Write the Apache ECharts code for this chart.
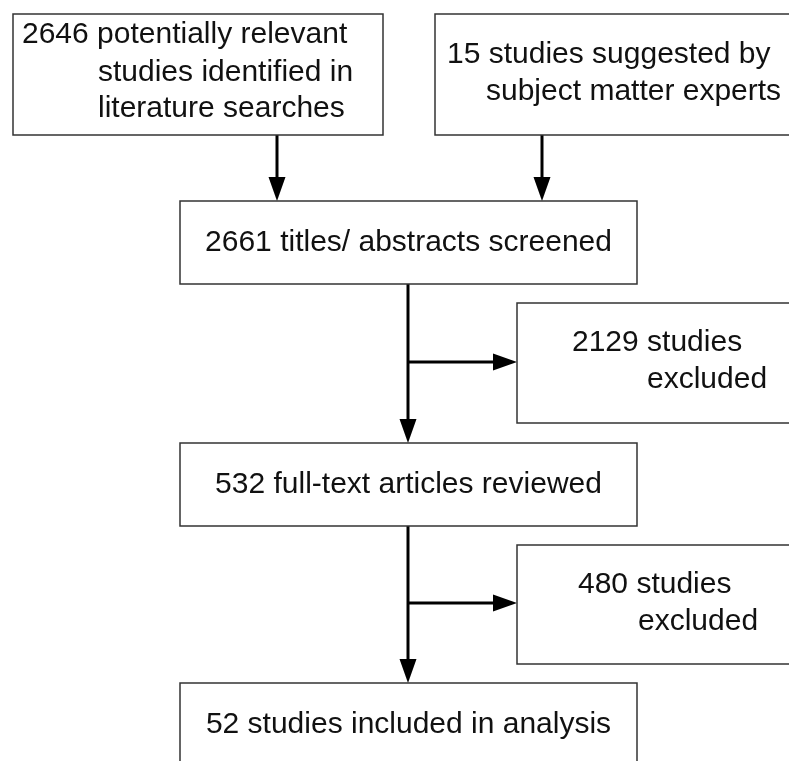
<!DOCTYPE html>
<html>
<head>
<meta charset="utf-8">
<title>Study selection flow</title>
<style>
  html, body {
    margin: 0;
    padding: 0;
    background: #fff;
  }
  #main {
    width: 789px;
    height: 761px;
  }
</style>
<script src="https://cdn.jsdelivr.net/npm/echarts/dist/echarts.min.js"></script>
</head>
<body>
<div id="main"></div>
<script>
// numbers of studies at each step of the flow
const stepCounts = [2646, 15, 2661, 2129, 532, 480, 52];
// text after the number, one entry per line
const stepLabels = [
  ["potentially relevant", "studies identified in", "literature searches"],
  ["studies suggested by", "subject matter experts"],
  ["titles/ abstracts screened"],
  ["studies", "excluded"],
  ["full-text articles reviewed"],
  ["studies", "excluded"],
  ["studies included in analysis"]
];
// which step feeds which
const stepLinks = [[0, 2], [1, 2], [2, 4], [2, 3], [4, 6], [4, 5]];

// page layout (pixel space of the drawing, y goes down)
const boxLayout = [
  { box: [13, 14, 383, 135], lines: [[22, 35], [98, 73], [98, 109]] },
  { box: [435, 14, 800, 135], lines: [[447, 55], [486, 92]] },
  { box: [180, 201, 637, 284] },
  { box: [517, 303, 800, 423], lines: [[572, 343], [647, 380]] },
  { box: [180, 443, 637, 526] },
  { box: [517, 545, 800, 664], lines: [[578, 585], [638, 622]] },
  { box: [180, 683, 637, 766] }
];
const linkLayout = [
  [[277, 135], [277, 201]],
  [[542, 135], [542, 201]],
  [[408, 284], [408, 443]],
  [[408, 362], [517, 362]],
  [[408, 526], [408, 683]],
  [[408, 603], [517, 603]]
];

const font = '30px "Liberation Sans", Arial, sans-serif';

function stepText(i) {
  let lines = stepLabels[i].slice();
  lines[0] = stepCounts[i] + " " + lines[0];
  return lines;
}

function renderBox(params, api) {
  let i = api.value(0);
  let lay = boxLayout[i];
  let p0 = api.coord([lay.box[0], lay.box[1]]);
  let p1 = api.coord([lay.box[2], lay.box[3]]);
  let children = [{
    type: "rect",
    shape: { x: p0[0], y: p0[1], width: p1[0] - p0[0], height: p1[1] - p0[1] },
    style: { fill: "#fff", stroke: "#333", lineWidth: 1.5 }
  }];
  let lines = stepText(i);
  lines.forEach((t, k) => {
    let pos, align;
    if (lay.lines) {
      pos = api.coord(lay.lines[k]);
      align = "left";
    } else {
      pos = [(p0[0] + p1[0]) / 2, (p0[1] + p1[1]) / 2];
      align = "center";
    }
    children.push({
      type: "text",
      style: {
        text: t,
        x: pos[0],
        y: pos[1],
        font: font,
        fill: "#111",
        align: align,
        verticalAlign: "middle"
      }
    });
  });
  return { type: "group", children: children };
}

function renderLink(params, api) {
  let path = linkLayout[api.value(0)];
  let a = api.coord(path[0]);
  let b = api.coord(path[1]);
  let dx = b[0] - a[0], dy = b[1] - a[1];
  let len = Math.sqrt(dx * dx + dy * dy);
  let ux = dx / len, uy = dy / len;
  let headLen = 24, headW = 8.5;
  let base = [b[0] - ux * headLen, b[1] - uy * headLen];
  return {
    type: "group",
    children: [{
      type: "line",
      shape: { x1: a[0], y1: a[1], x2: base[0], y2: base[1] },
      style: { stroke: "#000", lineWidth: 3 }
    }, {
      type: "polygon",
      shape: {
        points: [
          [b[0], b[1]],
          [base[0] - uy * headW, base[1] + ux * headW],
          [base[0] + uy * headW, base[1] - ux * headW]
        ]
      },
      style: { fill: "#000" }
    }]
  };
}

let myChart = echarts.init(document.getElementById("main"));
myChart.setOption({
  backgroundColor: "#fff",
  animation: false,
  grid: { left: 0, right: 0, top: 0, bottom: 0 },
  xAxis: { type: "value", min: 0, max: 789, show: false },
  yAxis: { type: "value", min: 0, max: 761, inverse: true, show: false },
  series: [
    {
      type: "custom",
      name: "links",
      renderItem: renderLink,
      data: stepLinks.map((l, i) => [i, l[0], l[1]]),
      encode: { x: -1, y: -1 },
      silent: true
    },
    {
      type: "custom",
      name: "steps",
      renderItem: renderBox,
      data: stepCounts.map((c, i) => [i, c]),
      encode: { x: -1, y: -1 },
      silent: true
    }
  ]
});
</script>
</body>
</html>
